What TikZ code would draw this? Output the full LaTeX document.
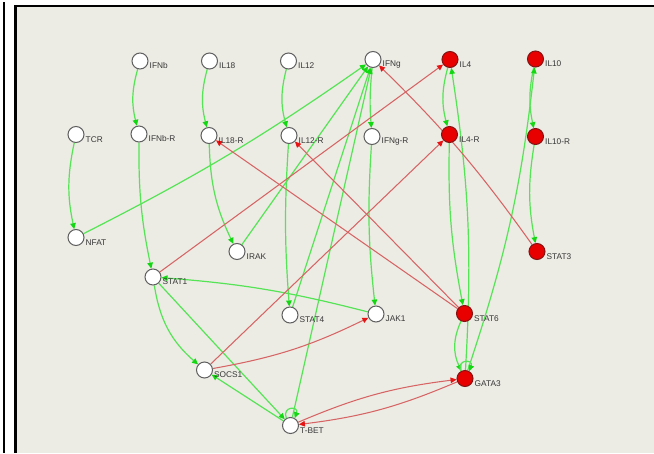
\documentclass[tikz,border=0pt]{standalone}
\usepackage{fontspec}
\setmainfont{Liberation Sans}
\usetikzlibrary{arrows.meta,backgrounds}
\definecolor{panelbg}{RGB}{236,235,228}
\definecolor{nodegray}{RGB}{95,95,95}
\definecolor{nodered}{RGB}{232,0,0}
\definecolor{noderedborder}{RGB}{130,20,20}
\definecolor{lblgray}{RGB}{55,55,55}
\definecolor{actgreen}{RGB}{85,228,85}
\definecolor{actgreenhead}{RGB}{20,215,20}
\definecolor{inhred}{RGB}{215,100,100}
\definecolor{inhredhead}{RGB}{230,20,20}
\newcommand\mynd[5]{\node[#1] (#2) at (#3,-#4) {}; \node[lbl] (#2-l) at ([shift={(9.5,-5)}]#2.center) {#5};}
\begin{document}
\begin{tikzpicture}[x=1pt,y=1pt,
  wnode/.style={circle,draw=nodegray,fill=white,minimum size=16pt,inner sep=0pt,line width=1pt},
  rnode/.style={circle,draw=noderedborder,fill=nodered,minimum size=16pt,inner sep=0pt,line width=1pt},
  lbl/.style={anchor=west,inner sep=0pt,text=lblgray,font=\fontsize{8.3}{9}\selectfont},
  act/.style={draw=actgreen,line width=1.2pt,-{Triangle[length=6pt,width=5.5pt,color=actgreenhead]}},
  inh/.style={draw=inhred,line width=1.05pt,-{Triangle[length=6pt,width=5.5pt,color=inhredhead]}},
]
\useasboundingbox (0,0) rectangle (654,-453);
\begin{pgfonlayer}{background}
\fill[white] (0,0) rectangle (654,-453);
\fill[panelbg] (15.5,-6) rectangle (654,-453);
\draw[line width=1.8pt] (4,-2) -- (4,-453);
\draw[line width=2.4pt] (15.5,-453) -- (15.5,-6) -- (654,-6);
\end{pgfonlayer}
% nodes
\mynd{wnode}{ifnb}{140}{61}{IFNb}
\mynd{wnode}{il18}{209.5}{61}{IL18}
\mynd{wnode}{il12}{288.5}{61}{IL12}
\mynd{wnode}{ifng}{373}{59.5}{IFNg}
\mynd{rnode}{il4}{450}{59.5}{IL4}
\mynd{rnode}{il10}{535.5}{59}{IL10}
\mynd{wnode}{tcr}{76}{134.5}{TCR}
\mynd{wnode}{ifnbr}{139}{134}{IFNb-R}
\mynd{wnode}{il18r}{209}{135.5}{IL18-R}
\mynd{wnode}{il12r}{289}{135.5}{IL12-R}
\mynd{wnode}{ifngr}{372}{136.5}{IFNg-R}
\mynd{rnode}{il4r}{449.5}{134.5}{IL4-R}
\mynd{rnode}{il10r}{535.5}{136.5}{IL10-R}
\mynd{wnode}{nfat}{76}{237.5}{NFAT}
\mynd{wnode}{irak}{237}{251.5}{IRAK}
\mynd{rnode}{stat3}{537}{251.5}{STAT3}
\mynd{wnode}{stat1}{153}{277}{STAT1}
\mynd{wnode}{stat4}{290}{315}{STAT4}
\mynd{wnode}{jak1}{376}{314}{JAK1}
\mynd{rnode}{stat6}{464.5}{313.5}{STAT6}
\mynd{wnode}{socs1}{204.5}{370}{SOCS1}
\mynd{rnode}{gata3}{465}{378.5}{GATA3}
\mynd{wnode}{tbet}{290.5}{425.5}{T-BET}
% edges
\begin{pgfonlayer}{background}
\path
 (ifnb) edge[act,bend right=15] (ifnbr)
 (il18) edge[act,bend right=15] (il18r)
 (il12) edge[act,bend right=15] (il12r)
 (ifng) edge[act,bend right=5] (ifngr)
 (il4) edge[act,bend right=15] (il4r)
 (il10) edge[act,bend right=12] (il10r)
 (tcr) edge[act,bend right=12] (nfat)
 (ifnbr) edge[act,bend right=6] (stat1)
 (il18r) edge[act,bend right=12] (irak)
 (il12r) edge[act,bend right=4] (stat4)
 (ifngr) edge[act,bend right=5] (jak1)
 (il4r) edge[act,bend right=6] (stat6)
 (il10r) edge[act,bend right=10] (stat3)
 (nfat) edge[act,bend right=4] (ifng)
 (irak) edge[act] (ifng)
 (stat4) edge[act] (ifng)
 (tbet) edge[act] (ifng)
 (stat6) edge[act,bend right=25] (gata3)
 (gata3) edge[act,bend right=6] (il4)
 (gata3) edge[act,bend right=6] (il10)
 (stat1) edge[act,bend right=20] (socs1)
 (stat1) edge[act] (tbet)
 (tbet) edge[act] (socs1)
 (jak1) edge[act,bend right=5] (stat1);
\draw[act] (tbet.120) .. controls +(110:13) and +(70:13) .. (tbet.60);
\draw[act] (gata3.120) .. controls +(110:13) and +(70:13) .. (gata3.60);
\path
 (stat1) edge[inh] (il4)
 (socs1) edge[inh] (il4r)
 (socs1) edge[inh,bend right=8] (jak1)
 (stat6) edge[inh] (il18r)
 (stat6) edge[inh] (il12r)
 (stat3) edge[inh,bend right=5] (ifng)
 (tbet) edge[inh,bend left=8] (gata3)
 (gata3) edge[inh,bend left=8] (tbet);
\end{pgfonlayer}
\end{tikzpicture}
\end{document}
